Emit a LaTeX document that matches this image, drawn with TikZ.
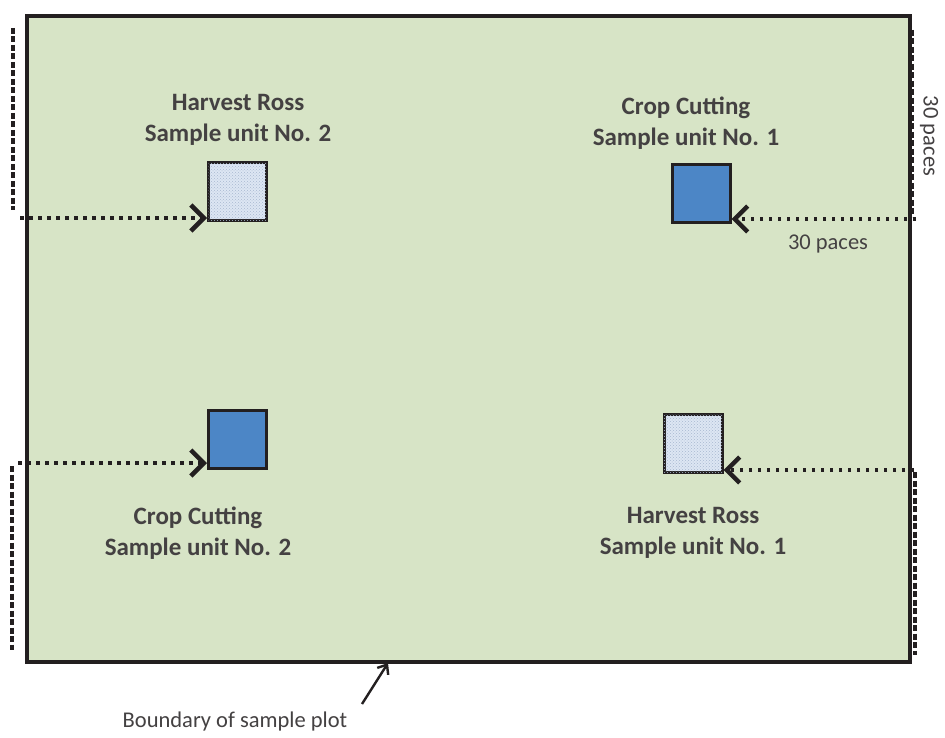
\documentclass[tikz,border=0pt]{standalone}
\usepackage{fontspec}
\setmainfont{Carlito}
\usetikzlibrary{arrows.meta,patterns}
\definecolor{plotgreen}{HTML}{D7E4C6}
\definecolor{darkblue}{HTML}{4C86C6}
\definecolor{lightblue}{HTML}{DDE6F3}
\definecolor{dotblue}{HTML}{A8B8D0}
\definecolor{inkc}{HTML}{231F20}
\begin{document}
\begin{tikzpicture}[x=1pt,y=-1pt,
  ccbox/.style={draw=inkc,line width=3pt,fill=darkblue,minimum size=58pt,inner sep=0pt},
  hrbox/.style={draw=inkc,line width=3pt,fill=lightblue,minimum size=58pt,inner sep=0pt,
    postaction={pattern=crosshatch dots,pattern color=dotblue}},
  lbl/.style={font=\fontsize{25}{31}\selectfont\bfseries,text=inkc!85,align=center},
  paceline/.style={inkc,line width=3.6pt,dash pattern=on 6pt off 2.5pt},
  walk/.style={inkc,line width=4pt,dash pattern=on 3.5pt off 5.5pt,
    -{Straight Barb[length=13pt,width=26pt,line width=4.5pt]}},
  note/.style={font=\fontsize{22.5}{24}\selectfont,text=inkc!85}]
\useasboundingbox (0,0) rectangle (945,738);
\fill[white] (0,0) rectangle (945,738);
% plot
\node[draw=inkc,line width=4pt,fill=plotgreen,minimum width=883pt,minimum height=646pt,inner sep=0pt,anchor=north west] (plot) at (25,14) {};
% sample units
\node[hrbox] (hr2) at (237.5,192) {};
\node[ccbox] (cc1) at (701,194) {};
\node[ccbox] (cc2) at (237.5,439) {};
\node[hrbox] (hr1) at (693,443) {};
% labels
\node[lbl] (thr2) at (238,120) {Harvest Ross\\Sample unit No. 2};
\node[lbl] (tcc1) at (686,123) {Crop Cutting\\Sample unit No. 1};
\node[lbl] (tcc2) at (198,533) {Crop Cutting\\Sample unit No. 2};
\node[lbl] (thr1) at (693,533) {Harvest Ross\\Sample unit No. 1};
% pace guides
\coordinate (a1) at (13,28);  \coordinate (a2) at (13,210);
\coordinate (a3) at (20,218);
\draw[paceline] (a1) -- (a2);
\draw[walk] (a3) -- (hr2.west |- a3);
\coordinate (b1) at (912,30); \coordinate (b2) at (912,217);
\coordinate (b3) at (916,219);
\draw[paceline] (b1) -- (b2);
\draw[walk] (b3) -- (cc1.east |- b3);
\node[note,rotate=-90] (p1) at (929,136) {30 paces};
\node[note] (p2) at (828,244) {30 paces};
\coordinate (c1) at (12,466); \coordinate (c2) at (12,650);
\coordinate (c3) at (18,463);
\draw[paceline] (c1) -- (c2);
\draw[walk] (c3) -- (cc2.west |- c3);
\coordinate (d1) at (915,472); \coordinate (d2) at (915,655);
\coordinate (d3) at (914,470);
\draw[paceline] (d1) -- (d2);
\draw[walk] (d3) -- (hr1.east |- d3);
% boundary note
\node[note] (bnd) at (235,721) {Boundary of sample plot};
\coordinate (bp) at (388,663);
\draw[inkc,line width=2.4pt,-{Straight Barb[length=8pt,width=13pt,line width=2.4pt]}] (362,704) -- (bp);
\end{tikzpicture}
\end{document}
